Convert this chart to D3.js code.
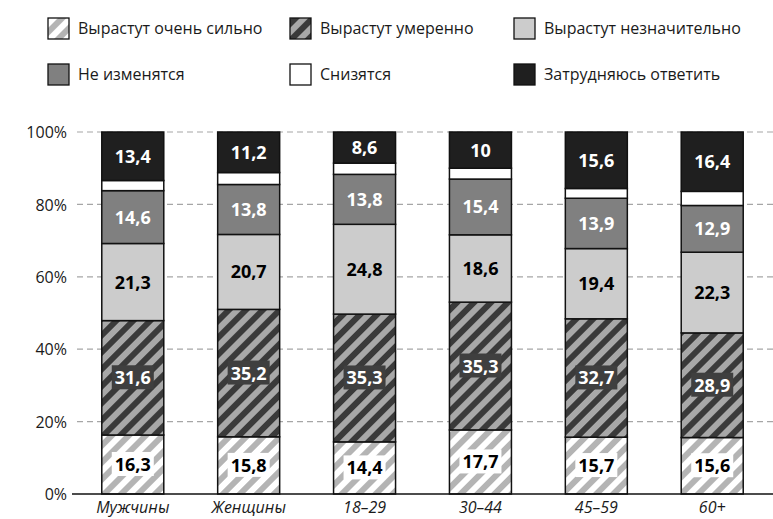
<!DOCTYPE html>
<html>
<head>
<meta charset="utf-8">
<script src="https://cdn.jsdelivr.net/npm/d3@7"></script>
<style>
  html, body { margin: 0; padding: 0; background: #fff; }
  svg { display: block; font-family: "Open Sans", "Noto Sans", sans-serif; }
</style>
</head>
<body>
<svg id="chart" width="773" height="519"></svg>
<script>
// Категории и значения (%)
const categories = ["Мужчины", "Женщины", "18–29", "30–44", "45–59", "60+"];
const seriesNames = ["Вырастут очень сильно", "Вырастут умеренно", "Вырастут незначительно",
                     "Не изменятся", "Снизятся", "Затрудняюсь ответить"];
const veryStrong = [16.3, 15.8, 14.4, 17.7, 15.7, 15.6];
const moderate   = [31.6, 35.2, 35.3, 35.3, 32.7, 28.9];
const slight     = [21.3, 20.7, 24.8, 18.6, 19.4, 22.3];
const unchanged  = [14.6, 13.8, 13.8, 15.4, 13.9, 12.9];
const decrease   = [2.8, 3.3, 3.1, 3.0, 2.7, 3.9];
const unsure     = [13.4, 11.2, 8.6, 10, 15.6, 16.4];
const yTicks     = [0, 20, 40, 60, 80, 100];

const seriesValues = [veryStrong, moderate, slight, unchanged, decrease, unsure];
const keys = ["s0", "s1", "s2", "s3", "s4", "s5"];
const rows = categories.map((c, i) => {
  const r = { cat: c };
  keys.forEach((k, j) => r[k] = seriesValues[j][i]);
  return r;
});

const svg = d3.select("#chart");
const defs = svg.append("defs");

// Штриховки
function stripes(id, bg, fg, size) {
  const p = defs.append("pattern")
    .attr("id", id)
    .attr("patternUnits", "userSpaceOnUse")
    .attr("width", size).attr("height", size)
    .attr("patternTransform", "rotate(45)");
  p.append("rect").attr("width", size).attr("height", size).attr("fill", bg);
  p.append("rect").attr("width", size / 2).attr("height", size).attr("fill", fg);
}
stripes("hatchLight", "#ffffff", "#b4b4b4", 12);
stripes("hatchDark", "#3a3a3a", "#a8a8a8", 12);

const fills = ["url(#hatchLight)", "url(#hatchDark)", "#cccccc", "#808080", "#ffffff", "#1f1f1f"];
const labelStyle = [
  { color: "#000", box: "#fff" },
  { color: "#fff", box: "#3f3f3f" },
  { color: "#000", box: null },
  { color: "#fff", box: null },
  null,
  { color: "#fff", box: null }
];

const x = d3.scaleBand().domain(categories).range([72, 773]).paddingInner(0.465).paddingOuter(0.257);
const y = d3.scaleLinear().domain([0, 100]).range([494, 132]);

// Сетка
const grid = svg.append("g");
grid.selectAll("line").data(yTicks.filter(t => t > 0)).join("line")
  .attr("x1", 77).attr("x2", 773)
  .attr("y1", d => y(d)).attr("y2", d => y(d))
  .attr("stroke", "#a6a6a6").attr("stroke-width", 1.2).attr("stroke-dasharray", "6,4");

// Ось Y
const yAxis = d3.axisLeft(y).tickValues(yTicks).tickFormat(d => d + "%").tickSize(0).tickPadding(0);
const ya = svg.append("g").attr("transform", "translate(67,0)").call(yAxis);
ya.select(".domain").remove();
ya.selectAll("text").attr("font-size", 16).attr("fill", "#1a1a1a")
  .attr("font-family", "'Open Sans', sans-serif").attr("dy", "0.35em");

// Столбцы
const stack = d3.stack().keys(keys)(rows);
const layers = svg.append("g").selectAll("g").data(stack).join("g")
  .attr("fill", (d, i) => fills[i]);
layers.selectAll("rect").data(d => d).join("rect")
  .attr("x", d => x(d.data.cat))
  .attr("width", x.bandwidth())
  .attr("y", d => y(d[1]))
  .attr("height", d => y(d[0]) - y(d[1]))
  .attr("stroke", "#111").attr("stroke-width", 1.5);

// Подписи значений
const fmt = v => String(v).replace(".", ",");
const lab = svg.append("g");
stack.forEach((layer, i) => {
  const st = labelStyle[i];
  if (!st) return;
  layer.forEach(d => {
    const v = d[1] - d[0];
    const cx = x(d.data.cat) + x.bandwidth() / 2;
    const cy = (y(d[0]) + y(d[1])) / 2;
    const g = lab.append("g");
    const t = g.append("text")
      .attr("x", cx).attr("y", cy).attr("dy", "0.36em")
      .attr("text-anchor", "middle")
      .attr("font-size", 18).attr("font-weight", "bold")
      .attr("fill", st.color)
      .text(fmt(+v.toFixed(1)));
    if (st.box) {
      const bb = t.node().getBBox();
      g.insert("rect", "text")
        .attr("x", bb.x - 3).attr("y", bb.y)
        .attr("width", bb.width + 6).attr("height", bb.height)
        .attr("fill", st.box);
    }
  });
});

// Ось X
svg.append("line").attr("x1", 72).attr("x2", 773).attr("y1", 494).attr("y2", 494)
  .attr("stroke", "#111").attr("stroke-width", 1.5);
const xAxis = d3.axisBottom(x).tickSize(0).tickPadding(0);
const xa = svg.append("g").attr("transform", "translate(0,494)").call(xAxis);
xa.select(".domain").remove();
xa.selectAll("text").attr("font-size", 16).attr("font-style", "italic")
  .attr("fill", "#1a1a1a").attr("font-family", "'Open Sans', sans-serif")
  .attr("dy", null).attr("y", 19);

// Легенда
const legendX = [48, 290, 514];
const legendY = [28, 74];
const leg = svg.append("g").selectAll("g").data(seriesNames).join("g")
  .attr("transform", (d, i) => `translate(${legendX[i % 3]},${legendY[Math.floor(i / 3)]})`);
leg.append("rect").attr("x", 0).attr("y", -10).attr("width", 21).attr("height", 21)
  .attr("fill", (d, i) => fills[i]).attr("stroke", "#111").attr("stroke-width", 1.3);
leg.append("text").attr("x", 30).attr("y", 0).attr("dy", "0.38em")
  .attr("font-size", 16).attr("fill", "#1a1a1a").text(d => d);
</script>
</body>
</html>
